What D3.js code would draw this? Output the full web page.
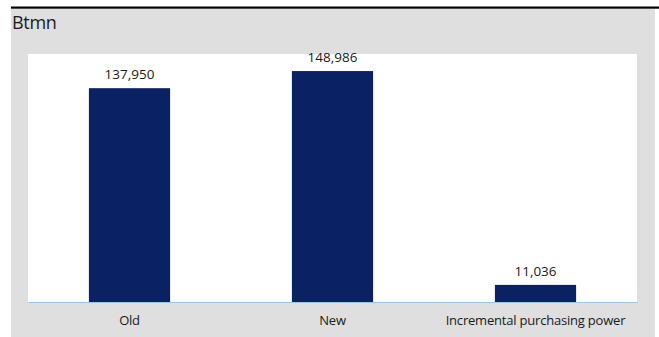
<!DOCTYPE html>
<html>
<head>
<meta charset="utf-8">
<script src="https://cdn.jsdelivr.net/npm/d3@7"></script>
<style>
  html, body { margin: 0; padding: 0; background: #ffffff; }
  svg { display: block; font-family: "Open Sans", "Noto Sans", sans-serif; }
</style>
</head>
<body>
<svg id="chart" width="659" height="337"></svg>
<script>
// Purchasing power, in Btmn
const categories = ["Old", "New", "Incremental purchasing power"];
const values = [137950, 148986, 11036];
const unitTitle = "Btmn";

const W = 659, H = 337;
const panel = { left: 11, top: 9, right: 655 };
const plot = { left: 28, right: 637, top: 54, bottom: 302 };

const svg = d3.select("#chart");

// grey panel and black rule on top
svg.append("rect")
  .attr("x", panel.left).attr("y", panel.top)
  .attr("width", panel.right - panel.left).attr("height", H - panel.top)
  .attr("fill", "#dfdfdf");
svg.append("rect")
  .attr("x", panel.left).attr("y", 6.5)
  .attr("width", W - panel.left).attr("height", 2.2)
  .attr("fill", "#000000");

// white plot area
svg.append("rect")
  .attr("x", plot.left).attr("y", plot.top)
  .attr("width", plot.right - plot.left).attr("height", plot.bottom - plot.top)
  .attr("fill", "#ffffff");

svg.append("text")
  .attr("x", 12).attr("y", 29)
  .attr("font-size", 18).attr("fill", "#1a1a1a")
  .attr("letter-spacing", -0.3)
  .text(unitTitle);

const x = d3.scaleBand()
  .domain(categories)
  .range([plot.left, plot.right])
  .paddingInner(0.6).paddingOuter(0.3);

const y = d3.scaleLinear()
  .domain([0, 160000])
  .range([plot.bottom, plot.top]);

const fmt = d3.format(",");

svg.append("g").selectAll("rect")
  .data(values)
  .join("rect")
  .attr("x", (d, i) => x(categories[i]))
  .attr("y", d => y(d))
  .attr("width", x.bandwidth())
  .attr("height", d => y(0) - y(d))
  .attr("fill", "#0a2163");

svg.append("g").selectAll("text")
  .data(values)
  .join("text")
  .attr("x", (d, i) => x(categories[i]) + x.bandwidth() / 2)
  .attr("y", d => y(d) - 9)
  .attr("text-anchor", "middle")
  .attr("font-size", 13.5)
  .attr("fill", "#1a1a1a")
  .text(d => fmt(d));

// category axis
const axis = svg.append("g")
  .attr("transform", `translate(0,${plot.bottom})`)
  .call(d3.axisBottom(x).tickSize(0).tickPadding(14));
axis.select(".domain").attr("stroke", "#9dc3e6").attr("stroke-width", 1);
axis.selectAll("text")
  .attr("font-size", 13)
  .attr("letter-spacing", -0.2)
  .attr("fill", "#1a1a1a")
  .attr("font-family", "\"Open Sans\", \"Noto Sans\", sans-serif");
</script>
</body>
</html>
